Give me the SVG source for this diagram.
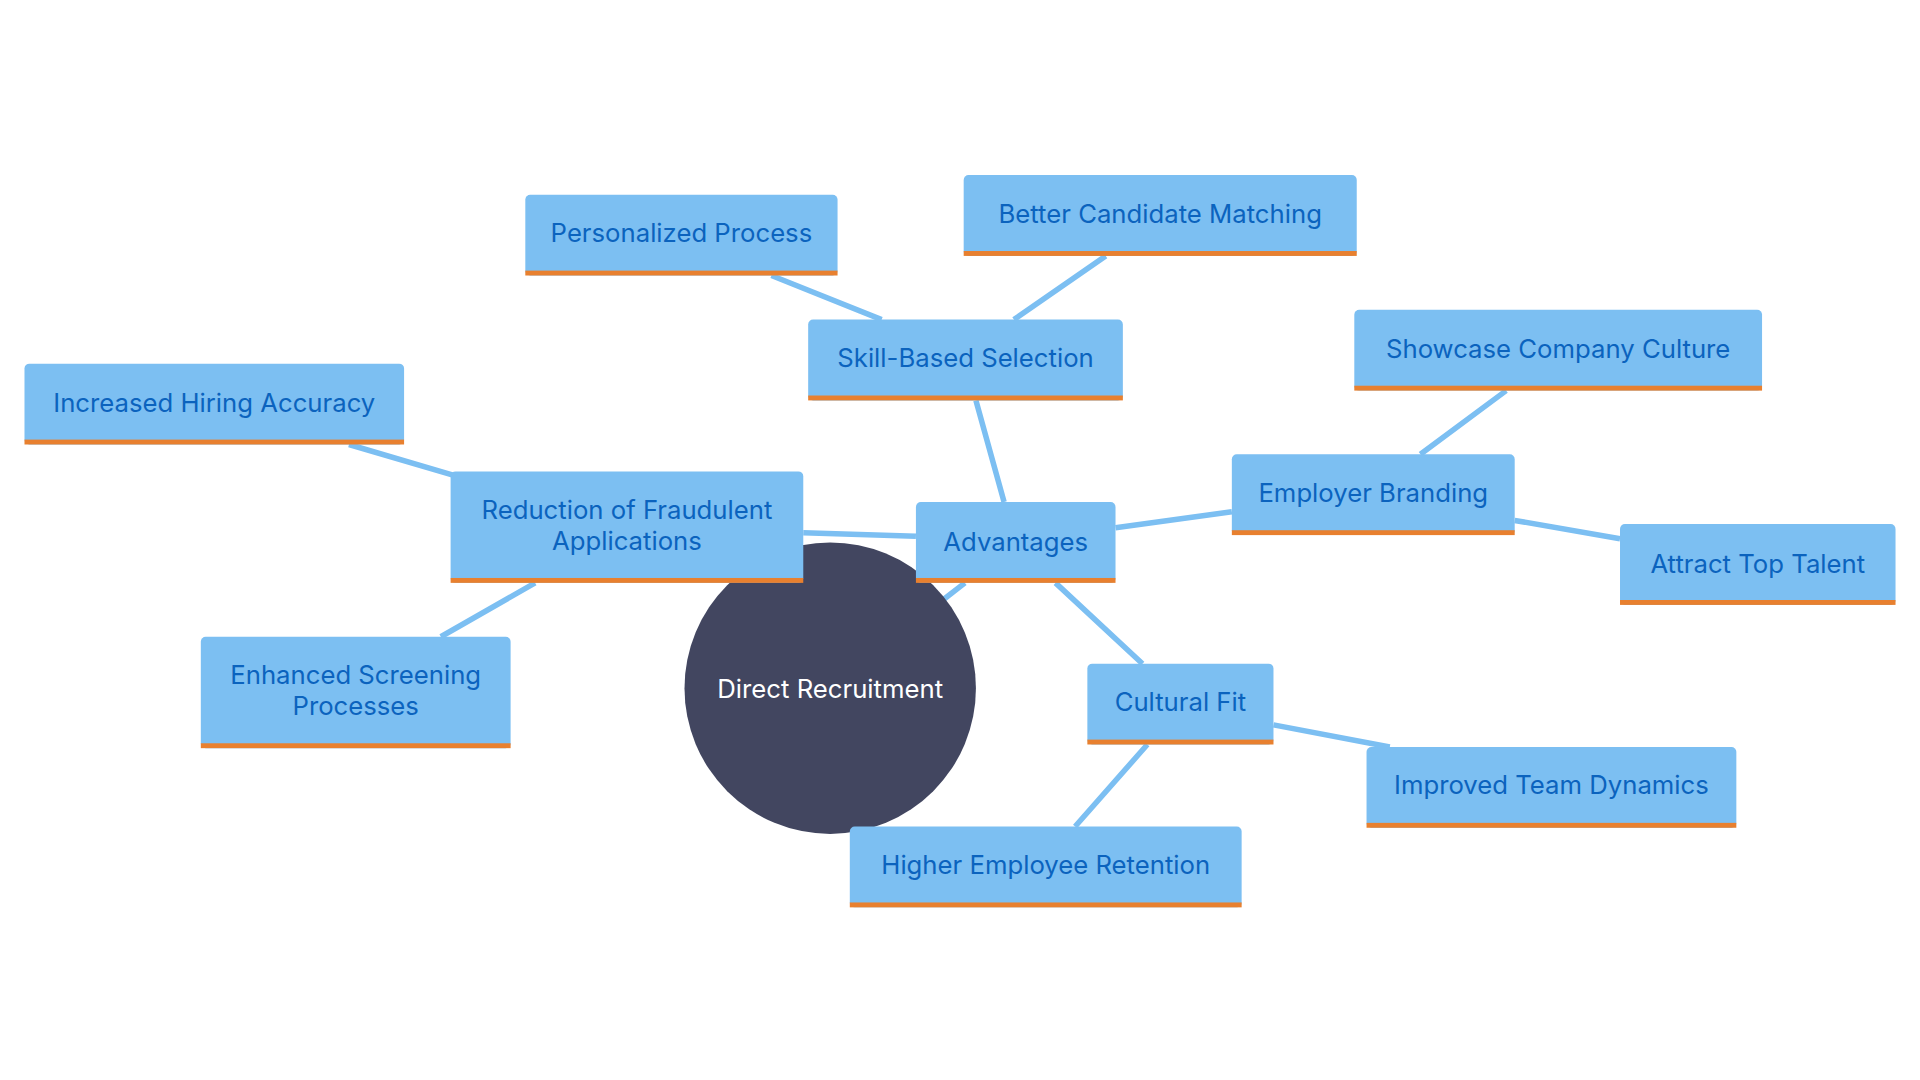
<svg xmlns="http://www.w3.org/2000/svg" width="1920" height="1080" viewBox="0 0 1920 1080">
<style>
.b{fill:#7cbff2}.o{fill:#e8802f}
.t{font-family:Inter,"Open Sans",sans-serif;font-size:21px;fill:#0b63be;text-anchor:middle;dominant-baseline:central}
.e{stroke:#7cbff2;stroke-width:4.5;fill:none}
</style>
<rect width="1920" height="1080" fill="#fff"/>
<g transform="scale(1.2245)">
<g id="connectors">
<path class="e" d="M770 490L788 476M820 410L797 327M720 261L630 225M828 261L903 209M748 438L656 435M370 388L285 363M437 476L360 520M911 431L1006 418M1160 371L1230 319M1237 425L1323 440M862 476L933 542M1040 592L1135 610M937 608L878 675"/>
</g>
<g id="root"><circle cx="678" cy="562" r="119" fill="#424660"/><text class="t" x="678" y="562" style="fill:#fff">Direct Recruitment</text></g>
<g id="adv"><rect class="b" x="748" y="410" width="163" height="66" rx="4"/><rect class="o" x="748" y="472" width="163" height="4"/><text class="t" x="829.5" y="442">Advantages</text></g>
<g id="skill"><rect class="b" x="660" y="261" width="257" height="66" rx="4"/><rect class="o" x="660" y="323" width="257" height="4"/><text class="t" x="788.5" y="292">Skill-Based Selection</text></g>
<g id="pers"><rect class="b" x="429" y="159" width="255" height="66" rx="4"/><rect class="o" x="429" y="221" width="255" height="4"/><text class="t" x="556.5" y="190">Personalized Process</text></g>
<g id="better"><rect class="b" x="787" y="143" width="321" height="66" rx="4"/><rect class="o" x="787" y="205" width="321" height="4"/><text class="t" x="947.5" y="174">Better Candidate Matching</text></g>
<g id="fraud"><rect class="b" x="368" y="385" width="288" height="91" rx="4"/><rect class="o" x="368" y="472" width="288" height="4"/><text class="t" x="512" y="416">Reduction of Fraudulent</text><text class="t" x="512" y="441">Applications</text></g>
<g id="acc"><rect class="b" x="20" y="297" width="310" height="66" rx="4"/><rect class="o" x="20" y="359" width="310" height="4"/><text class="t" x="175" y="329">Increased Hiring Accuracy</text></g>
<g id="screen"><rect class="b" x="164" y="520" width="253" height="91" rx="4"/><rect class="o" x="164" y="607" width="253" height="4"/><text class="t" x="290.5" y="551">Enhanced Screening</text><text class="t" x="290.5" y="576">Processes</text></g>
<g id="brand"><rect class="b" x="1006" y="371" width="231" height="66" rx="4"/><rect class="o" x="1006" y="433" width="231" height="4"/><text class="t" x="1121.5" y="402">Employer Branding</text></g>
<g id="culture"><rect class="b" x="1106" y="253" width="333" height="66" rx="4"/><rect class="o" x="1106" y="315" width="333" height="4"/><text class="t" x="1272.5" y="285">Showcase Company Culture</text></g>
<g id="talent"><rect class="b" x="1323" y="428" width="225" height="66" rx="4"/><rect class="o" x="1323" y="490" width="225" height="4"/><text class="t" x="1435.5" y="460">Attract Top Talent</text></g>
<g id="fit"><rect class="b" x="888" y="542" width="152" height="66" rx="4"/><rect class="o" x="888" y="604" width="152" height="4"/><text class="t" x="964" y="573">Cultural Fit</text></g>
<g id="team"><rect class="b" x="1116" y="610" width="302" height="66" rx="4"/><rect class="o" x="1116" y="672" width="302" height="4"/><text class="t" x="1267" y="641">Improved Team Dynamics</text></g>
<g id="ret"><rect class="b" x="694" y="675" width="320" height="66" rx="4"/><rect class="o" x="694" y="737" width="320" height="4"/><text class="t" x="854" y="706">Higher Employee Retention</text></g>
</g>
</svg>
